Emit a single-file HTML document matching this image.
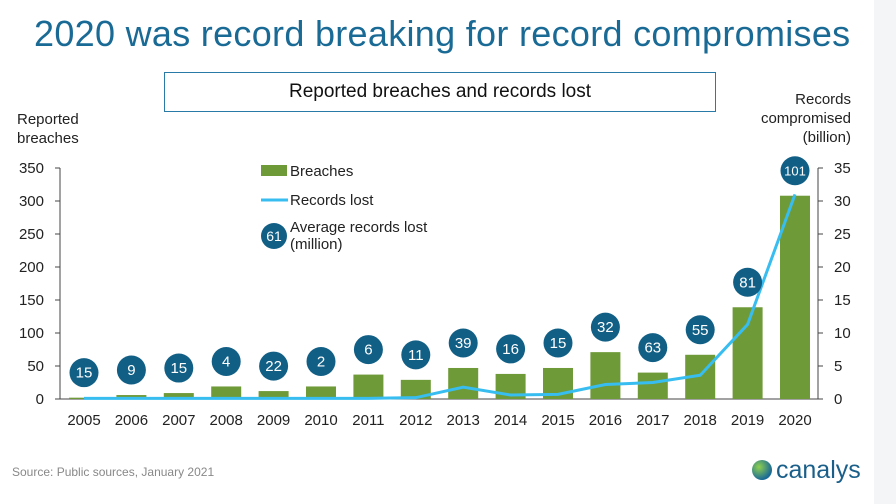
<!DOCTYPE html>
<html><head><meta charset="utf-8"><style>
body{margin:0;width:896px;height:504px;background:#fff;font-family:"Liberation Sans",sans-serif;overflow:hidden;position:relative}
</style></head><body>
<div style="position:absolute;left:874px;top:0;width:22px;height:504px;background:#f4f5f6"></div>
<div style="position:absolute;left:34px;top:13px;font-size:36px;color:#1a6a96;letter-spacing:0.3px">2020 was record breaking for record compromises</div>
<div style="position:absolute;left:164px;top:72px;width:550px;height:38px;border:1px solid #2a7aa8;font-size:19px;text-align:center;line-height:38px;color:#111">Reported breaches and records lost</div>
<svg id="c" width="896" height="504" style="position:absolute;left:0;top:0" font-family="Liberation Sans, sans-serif"></svg>
<div style="position:absolute;left:12px;top:465px;font-size:12px;color:#888">Source: Public sources, January 2021</div>
<div style="position:absolute;left:752px;top:456px;font-size:25px;color:#1a5f8a"><span style="display:inline-block;width:20px;height:20px;border-radius:50%;background:radial-gradient(circle at 35% 35%,#8fd14f,#1a6a96 70%);vertical-align:-2px;margin-right:4px"></span>canalys</div>
<script>
const years=["2005","2006","2007","2008","2009","2010","2011","2012","2013","2014","2015","2016","2017","2018","2019","2020"];
const breaches=[2,6,9,19,12,19,37,29,47,38,47,71,40,67,139,308];
const records=[0.1,0.1,0.1,0.1,0.1,0.1,0.1,0.2,1.8,0.6,0.7,2.2,2.5,3.6,11.3,31];
const avgLost=[15,9,15,4,22,2,6,11,39,16,15,32,63,55,81,101];
const leftTicks=[0,50,100,150,200,250,300,350];
const rightTicks=[0,5,10,15,20,25,30,35];
const svg=document.getElementById('c');const NS='http://www.w3.org/2000/svg';
function mk(t,a,p){const e=document.createElementNS(NS,t);for(const k in a)e.setAttribute(k,a[k]);(p||svg).appendChild(e);return e;}
const y0=399,y1=168,xL=60,xR=818;
const yl=v=>y0-(v/350)*(y0-y1), yr=v=>y0-(v/35)*(y0-y1);
const xc=i=>84+i*47.4;
let e;
e=mk('line',{x1:xL,y1:y1,x2:xL,y2:y0,stroke:'#444'});
e=mk('line',{x1:xR,y1:y1,x2:xR,y2:y0,stroke:'#444'});
e=mk('line',{x1:xL,y1:y0,x2:xR,y2:y0,stroke:'#444'});
leftTicks.forEach(v=>{mk('line',{x1:xL-5,y1:yl(v),x2:xL,y2:yl(v),stroke:'#444'});
e=mk('text',{x:44,y:yl(v)+5,'text-anchor':'end','font-size':15,fill:'#222'});e.textContent=v;});
rightTicks.forEach(v=>{mk('line',{x1:xR,y1:yr(v),x2:xR+5,y2:yr(v),stroke:'#444'});
e=mk('text',{x:834,y:yr(v)+5,'font-size':15,fill:'#222'});e.textContent=v;});
years.forEach((y,i)=>{e=mk('text',{x:xc(i),y:425,'text-anchor':'middle','font-size':15,fill:'#222'});e.textContent=y;});
breaches.forEach((v,i)=>{e=mk('rect',{x:xc(i)-15,y:yl(v),width:30,height:y0-yl(v),fill:'#6f9a38'});});
e=mk('polyline',{points:records.map((v,i)=>xc(i)+','+yr(v)).join(' '),fill:'none',stroke:'#38bdf0','stroke-width':3});
avgLost.forEach((v,i)=>{const cy=yl(breaches[i])-25;
e=mk('circle',{cx:xc(i),cy:cy,r:14.5,fill:'#125f86'});
e=mk('text',{x:xc(i),y:cy+5,'text-anchor':'middle','font-size':v>99?13:15,fill:'#fff'});e.textContent=v;});
e=mk('rect',{x:261,y:165,width:26,height:11,fill:'#6f9a38'});
e=mk('text',{x:290,y:176,'font-size':15,fill:'#222'});e.textContent='Breaches';
e=mk('line',{x1:261,y1:200,x2:288,y2:200,stroke:'#38bdf0','stroke-width':3});
e=mk('text',{x:290,y:205,'font-size':15,fill:'#222'});e.textContent='Records lost';
e=mk('circle',{cx:274,cy:236,r:13,fill:'#125f86'});
e=mk('text',{x:274,y:241,'text-anchor':'middle','font-size':14,fill:'#fff'});e.textContent='61';
e=mk('text',{x:290,y:232,'font-size':15,fill:'#222'});e.textContent='Average records lost';
e=mk('text',{x:290,y:249,'font-size':15,fill:'#222'});e.textContent='(million)';
[['Reported',17,124,'start'],['breaches',17,143,'start'],['Records',851,104,'end'],['compromised',851,123,'end'],['(billion)',851,142,'end']].forEach(a=>{e=mk('text',{x:a[1],y:a[2],'font-size':15,fill:'#222','text-anchor':a[3]});e.textContent=a[0];});
</script>
</body></html>
